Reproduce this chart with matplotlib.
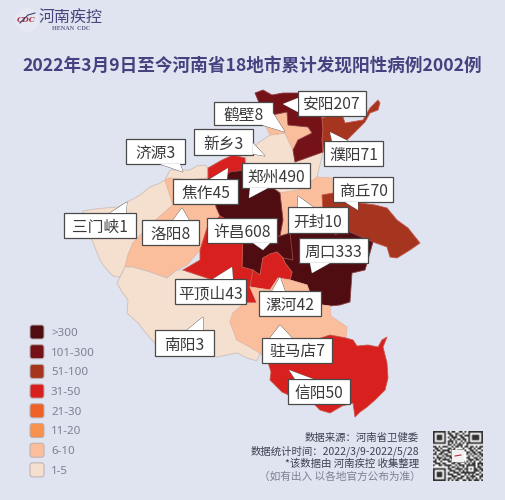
import matplotlib
matplotlib.use("Agg")
from matplotlib import pyplot as plt
from matplotlib.patches import Circle, FancyBboxPatch, Polygon, Rectangle
import numpy as np

plt.rcParams['font.family'] = ['Noto Sans CJK SC', 'DejaVu Sans']

BG = "#dfe4f0"
TITLE = "2022年3月9日至今河南省18地市累计发现阳性病例2002例"

# legend
legend_labels = [">300", "101-300", "51-100", "31-50", "21-30", "11-20", "6-10", "1-5"]
legend_colors = ["#4f0d12", "#741217", "#a5351f", "#d8201f", "#ee6126", "#f7924e", "#fbbe9c", "#f5dfcf"]

# cities and their case counts
cities = ["三门峡", "济源", "洛阳", "南阳", "焦作", "新乡", "鹤壁", "安阳", "濮阳", "开封",
          "商丘", "郑州", "许昌", "周口", "平顶山", "漯河", "驻马店", "信阳"]
cases = [1, 3, 8, 3, 45, 3, 8, 207, 71, 10, 70, 490, 608, 333, 43, 42, 7, 50]

# city outlines, in picture pixels
shapes = {
    "三门峡": [(83, 211), (95, 209), (105, 208), (118, 207), (127, 202), (135, 198), (140, 195), (150, 187), (158, 184), (165, 180), (170, 195), (173, 205),
            (150, 225), (133, 243), (128, 255), (125, 267), (120, 277), (113, 276), (110, 273), (104, 266), (100, 260), (92, 240), (85, 228)],
    "济源": [(165, 180), (170, 170), (190, 170), (197, 166), (205, 165), (208, 168), (208, 178), (190, 180), (170, 178)],
    "洛阳": [(165, 180), (170, 178), (190, 180), (208, 178), (214, 190), (216, 207), (220, 216), (207, 228),
            (200, 250), (187, 265), (177, 270), (167, 278), (150, 272), (133, 267), (125, 267), (128, 255),
            (133, 243), (150, 225), (173, 205)],
    "南阳": [(125, 267), (133, 267), (150, 272), (167, 278), (177, 270), (183, 270), (213, 280), (245, 303),
            (233, 313), (230, 322), (237, 340), (250, 347), (260, 353), (257, 361), (247, 358), (237, 353), (227, 355),
            (217, 357), (205, 356), (193, 355), (187, 357), (170, 352), (155, 343), (152, 340), (145, 332), (138, 323), (127, 313),
            (128, 300), (122, 292), (117, 283), (120, 277)],
    "焦作": [(208, 168), (222, 160), (233, 155), (245, 158), (246, 170), (230, 172), (222, 180), (208, 178)],
    "新乡": [(246, 157), (258, 143), (270, 135), (285, 133), (293, 150), (295, 162), (320, 153), (323, 152),
            (320, 165), (317, 177), (300, 190), (280, 193), (262, 180), (246, 170)],
    "鹤壁": [(272, 115), (287, 112), (288, 125), (308, 127), (312, 133), (298, 140), (293, 150), (285, 133), (270, 135), (265, 125)],
    "安阳": [(255, 93), (263, 90), (272, 95), (283, 93), (300, 93), (322, 118), (323, 130), (322, 140), (323, 152),
            (295, 162), (293, 150), (298, 140), (312, 133), (308, 127), (288, 125), (287, 112), (272, 115),
            (265, 125), (260, 105)],
    "濮阳": [(322, 118), (332, 115), (343, 117), (345, 123), (363, 120), (370, 108), (378, 100), (380, 103), (378, 110),
            (370, 113), (365, 122), (357, 130), (347, 140), (325, 142), (323, 152), (322, 140), (323, 130)],
    "开封": [(280, 193), (300, 190), (317, 177), (332, 178), (333, 195), (322, 195), (323, 210), (330, 225),
            (335, 233), (290, 233), (280, 236), (283, 220)],
    "商丘": [(322, 195), (333, 193), (360, 203), (375, 205), (387, 208), (397, 220), (408, 228), (420, 243), (410, 250), (397, 258), (390, 257),
            (387, 247), (373, 242), (345, 230), (335, 235), (330, 225), (323, 210)],
    "郑州": [(208, 178), (222, 180), (230, 172), (246, 170), (262, 180), (280, 193), (283, 220), (280, 236),
            (260, 240), (240, 230), (220, 216), (216, 207), (214, 190)],
    "许昌": [(220, 216), (240, 230), (260, 240), (280, 236), (290, 233), (292, 245), (293, 260), (283, 258),
            (277, 252), (263, 258), (260, 275), (242, 267), (243, 230)],
    "周口": [(290, 233), (335, 233), (335, 235), (345, 230), (373, 242), (368, 260), (365, 270), (352, 273),
            (350, 302), (340, 305), (330, 306), (322, 305), (310, 293), (307, 285), (290, 280), (292, 272),
            (285, 263), (283, 258), (293, 260)],
    "平顶山": [(183, 270), (200, 260), (200, 250), (207, 228), (220, 216), (243, 230), (242, 267), (253, 270),
            (250, 287), (257, 303), (245, 303), (213, 280)],
    "漯河": [(263, 258), (270, 254), (277, 252), (283, 258), (285, 263), (292, 272), (290, 280), (278, 278), (270, 290), (250, 287),
            (253, 270), (260, 275)],
    "驻马店": [(233, 313), (245, 303), (257, 303), (250, 287), (270, 290), (278, 278), (290, 280), (307, 285), (310, 293),
            (322, 305), (330, 306), (331, 316), (347, 327), (346, 338), (330, 335), (300, 345), (268, 362),
            (260, 353), (250, 347), (237, 340), (230, 322)],
    "信阳": [(268, 362), (300, 345), (330, 335), (346, 338), (353, 340), (357, 346), (368, 345), (378, 347), (382, 340), (387, 337),
            (383, 347), (387, 363), (388, 378), (385, 390), (375, 400), (367, 407), (360, 412), (355, 417), (353, 403), (342, 406), (330, 413),
            (320, 410), (313, 403), (303, 403), (293, 397), (282, 392), (270, 380), (271, 372)],
}

# callouts: text, box (x0, y0, x1, y1), pointer (base a, tip, base b)
callouts = [
    ("鹤壁8", (214, 102, 273, 125), ((273, 113), (285, 132), (262, 125))),
    ("安阳207", (298, 91, 366, 116), ((298, 98), (283, 104), (298, 112))),
    ("新乡3", (194, 129, 253, 155), ((253, 143), (265, 156), (253, 154))),
    ("济源3", (126, 139, 185, 164), ((160, 164), (183, 172), (180, 164))),
    ("濮阳71", (324, 141, 383, 166), ((332, 141), (330, 132), (348, 141))),
    ("郑州490", (242, 163, 310, 188), ((250, 188), (249, 198), (268, 188))),
    ("焦作45", (173, 179, 238, 204), ((210, 179), (228, 168), (227, 179))),
    ("商丘70", (333, 177, 393, 202), ((345, 202), (358, 210), (358, 202))),
    ("开封10", (288, 207, 348, 233), ((298, 207), (298, 196), (313, 207))),
    ("三门峡1", (64, 213, 136, 238), ((110, 213), (127, 202), (126, 213))),
    ("洛阳8", (142, 220, 199, 245), ((173, 220), (182, 208), (189, 220))),
    ("许昌608", (207, 218, 277, 243), ((253, 243), (263, 250), (270, 243))),
    ("周口333", (299, 238, 368, 263), ((310, 263), (312, 273), (330, 263))),
    ("平顶山43", (175, 279, 246, 304), ((213, 279), (232, 267), (233, 279))),
    ("漯河42", (259, 291, 321, 316), ((272, 291), (280, 277), (285, 291))),
    ("南阳3", (155, 330, 214, 356), ((187, 330), (203, 317), (203, 330))),
    ("驻马店7", (262, 338, 332, 363), ((270, 338), (280, 325), (292, 338))),
    ("信阳50", (288, 379, 350, 404), ((295, 379), (289, 370), (313, 379))),
]

footer_lines = ["数据来源：河南省卫健委", "数据统计时间：2022/3/9-2022/5/28", "*该数据由 河南疾控 收集整理"]
footer_note = "（如有出入 以各地官方公布为准）"

# rough copy of the QR code
qr_rows = [
    "111111101011001101011111111",
    "100000101100110010010000001",
    "101110100110101101110111101",
    "101110101011100110010111101",
    "101110100101011011010111101",
    "100000101110100101010000001",
    "111111101010101010111111111",
    "000000001101011100100000000",
    "110101110010110101101101011",
    "011010001101000010011010110",
    "101101111011011101001101001",
    "010011001100111000110110110",
    "110110110010000000101011011",
    "001001011100000000010100101",
    "101110100110000000110011010",
    "010101111010000000011101101",
    "110010001101100110101010010",
    "011101100011011001010110111",
    "100110111100101110111110101",
    "000000001011010010100010110",
    "111111101100111101101011011",
    "100000100111001010100011101",
    "101110101001110111111110010",
    "101110101110011001010101101",
    "101110100011100110101110011",
    "100000101101011100110101010",
    "111111101010110011011011101",
]


def bin_color(n):
    for limit, color in zip([300, 100, 50, 30, 20, 10, 5, 0], legend_colors):
        if n > limit:
            return color
    return BG


def edge_color(n):
    if n <= 5:
        return "#cdbfba"
    if n <= 10:
        return "#e8b9a0"
    if n <= 100:
        return "#c9564a"
    return "#8f4044"


def draw_map(ax):
    for city, n in zip(cities, cases):
        ax.add_patch(Polygon(shapes[city], closed=True, facecolor=bin_color(n),
                             edgecolor=edge_color(n), linewidth=0.6, joinstyle="round", zorder=2))


def draw_callouts(ax):
    for text, (x0, y0, x1, y1), pointer in callouts:
        ax.add_patch(Polygon(pointer, closed=True, facecolor="white", edgecolor="#5a5a5a", linewidth=0.6, zorder=4))
        ax.add_patch(Rectangle((x0, y0), x1 - x0, y1 - y0, facecolor="white", edgecolor="#4a4a4a", linewidth=0.9, zorder=5))
        # cover the pointer's line where it meets the box
        ax.add_patch(Polygon(pointer, closed=True, facecolor="white", edgecolor="none", zorder=6))
        ax.text((x0 + x1) / 2, (y0 + y1) / 2, text, ha="center", va="center_baseline", fontsize=11.3, color="#3a3a3a", zorder=7)


def draw_legend(ax):
    for i, (label, color) in enumerate(zip(legend_labels, legend_colors)):
        y = 332 + i * 19.7
        ax.add_patch(FancyBboxPatch((30, y - 7), 14, 14, boxstyle="round,pad=0,rounding_size=2.5",
                                    mutation_aspect=1, facecolor=color, edgecolor="#b9aeb0", linewidth=0.7, zorder=3))
        ax.text(51, y, label, ha="left", va="center_baseline", fontsize=8.3, color="#7d8092", family=["Noto Sans"])


def draw_footer(ax):
    for i, line in enumerate(footer_lines):
        ax.text(419, 437 + i * 13, line, ha="right", va="center_baseline", fontsize=7.5, color="#3d4152")
    ax.text(421, 475.5, footer_note, ha="right", va="center_baseline", fontsize=7.7, color="#7d8092")


def draw_qr(ax):
    grid = np.array([[int(c) for c in row] for row in qr_rows])
    ax.imshow(grid, cmap="gray_r", vmin=0, vmax=1.25, extent=(433, 483, 481, 431), interpolation="bilinear", aspect="auto", zorder=3)
    ax.add_patch(Rectangle((452, 450), 12, 12, facecolor="#f2f2f2", edgecolor="none", zorder=4))
    ax.plot([455, 461], [456, 455], color="#b03040", linewidth=0.8, zorder=5)


def draw_logo(ax):
    ax.add_patch(Circle((27, 20), 12, facecolor="#e6e9f1", edgecolor="none", zorder=2))
    ax.text(26, 20, "CDC", ha="center", va="center", fontsize=5.5, style="italic", weight="bold", color="#a83242", family=["DejaVu Serif"], zorder=3)
    ax.plot([20, 28, 35], [23, 15, 13], color="#3f4170", linewidth=0.8, zorder=4)
    ax.text(71, 16.5, "河南疾控", ha="center", va="center_baseline", fontsize=11.5, color="#45467d", zorder=3)
    ax.text(71, 29, "HENAN  CDC", ha="center", va="center", fontsize=4.4, color="#60628c", family=["Liberation Serif"], weight="bold", zorder=3)


def main():
    fig = plt.figure(figsize=(5.06, 5.0), dpi=100, facecolor=BG)
    ax = fig.add_axes([0, 0, 1, 1])
    ax.set_facecolor(BG)

    draw_map(ax)
    draw_callouts(ax)
    draw_legend(ax)
    draw_footer(ax)
    draw_qr(ax)
    draw_logo(ax)
    ax.text(252, 64, TITLE, ha="center", va="center_baseline", fontsize=12.7, weight="bold", color="#43427f")

    ax.set_xlim(0, 506)
    ax.set_ylim(500, 0)
    ax.axis("off")
    fig.savefig("out.png", dpi=100, facecolor=BG)


if __name__ == "__main__":
    main()
